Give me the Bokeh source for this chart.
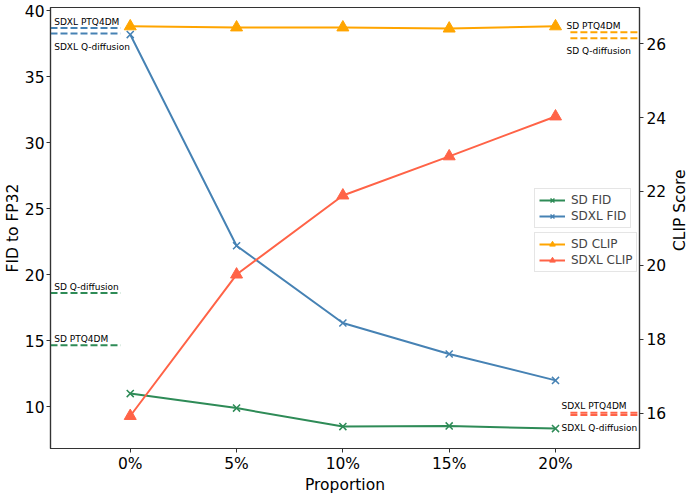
import math
from bokeh.plotting import figure
from bokeh.layouts import row
from bokeh.models import Range1d, LinearAxis, FixedTicker, Legend, LegendItem, ColumnDataSource
from bokeh.core.properties import value
from bokeh.embed import file_html
from bokeh.resources import INLINE

# ---------------- data ----------------
proportions = ["0%", "5%", "10%", "15%", "20%"]
sd_fid = [11.0, 9.9, 8.5, 8.55, 8.35]
sdxl_fid = [38.2, 22.2, 16.35, 14.0, 12.0]
sd_clip = [26.47, 26.44, 26.44, 26.41, 26.47]
sdxl_clip = [15.92, 19.75, 21.89, 22.95, 24.03]

baseline_methods = ["PTQ4DM", "Q-diffusion"]
sdxl_fid_base = [38.7, 38.28]
sd_fid_base = [14.67, 18.62]
sd_clip_base = [26.31, 26.15]
sdxl_clip_base = [16.01, 15.95]

left_ticks = [10, 15, 20, 25, 30, 35, 40]
right_ticks = [16, 18, 20, 22, 24, 26]

x_title = "Proportion"
y_title = "FID to FP32"
y2_title = "CLIP Score"

# ---------------- styles ----------------
GREEN = "#2e8b57"
BLUE = "#4682b4"
ORANGE = "#ffa500"
RED = "#ff6347"
AX = "#333333"
FONT = "DejaVu Sans"
FS = "15.5px"

idx = list(range(len(proportions)))

p = figure(width=669, height=496, output_backend="svg", toolbar_location=None,
           x_range=Range1d(-0.75, 4.79), y_range=Range1d(6.84, 40.25),
           min_border_left=48, min_border_right=27, min_border_top=7, min_border_bottom=48)
p.extra_y_ranges = {"clip": Range1d(15.04, 26.98)}
p.grid.visible = False
p.outline_line_color = AX
p.outline_line_width = 1.2
p.background_fill_color = "white"
p.border_fill_color = "white"

def style_axis(ax):
    ax.axis_line_color = AX
    ax.axis_line_width = 1.2
    ax.major_tick_line_color = AX
    ax.major_tick_out = 4
    ax.major_tick_in = 0
    ax.minor_tick_line_color = None
    ax.major_label_text_font = FONT
    ax.major_label_text_font_size = FS
    ax.major_label_text_color = "black"
    ax.axis_label_text_font = FONT
    ax.axis_label_text_font_size = FS
    ax.axis_label_text_font_style = "normal"
    ax.axis_label_text_color = "black"
    ax.major_label_standoff = 3
    ax.axis_label_standoff = 0

p.xaxis.ticker = FixedTicker(ticks=idx)
p.xaxis.major_label_overrides = {i: s for i, s in zip(idx, proportions)}
p.xaxis.axis_label = x_title
p.yaxis.ticker = FixedTicker(ticks=left_ticks)
p.yaxis.axis_label = y_title
style_axis(p.xaxis[0])
style_axis(p.yaxis[0])
p.xaxis[0].major_label_standoff = 2
p.yaxis[0].major_label_standoff = 2

raxis = LinearAxis(y_range_name="clip", ticker=FixedTicker(ticks=right_ticks))
style_axis(raxis)
p.add_layout(raxis, "right")

# ---------------- baselines (dashed) ----------------
LX0, LX1 = -0.75, -0.09
RX0, RX1 = 4.14, 4.79
DASH = "7 3"

def baseline(vals, color, x0, x1, rname="default"):
    for v in vals:
        p.line([x0, x1], [v, v], line_color=color, line_width=2, line_dash=DASH, y_range_name=rname)

baseline(sdxl_fid_base, BLUE, LX0, LX1)
baseline(sd_fid_base, GREEN, LX0, LX1)
baseline(sd_clip_base, ORANGE, RX0, RX1, "clip")
baseline(sdxl_clip_base, RED, RX0, RX1, "clip")

def base_labels(prefix, vals, xpos, rname="default"):
    # PTQ4DM label above its line, Q-diffusion label below its line
    offs = [-6.3, 13.0]
    for name, v, off in zip(baseline_methods, vals, offs):
        p.text(x=[xpos], y=[v], text=[f"{prefix} {name}"], text_font=value(FONT),
               text_font_size="9px", text_color="black", text_baseline="alphabetic",
               text_align="left", y_offset=off, y_range_name=rname)

# SD FID labels sit above their own lines
for name, v in zip(baseline_methods, sd_fid_base):
    p.text(x=[-0.715], y=[v], text=[f"SD {name}"], text_font=value(FONT),
           text_font_size="9px", text_color="black", text_baseline="alphabetic",
           text_align="left", y_offset=-6.0)
base_labels("SDXL", sdxl_fid_base, -0.715)
base_labels("SD", sd_clip_base, 4.103, "clip")
base_labels("SDXL", sdxl_clip_base, 4.056, "clip")

# ---------------- series ----------------
src = ColumnDataSource(dict(x=idx, sd_fid=sd_fid, sdxl_fid=sdxl_fid, sd_clip=sd_clip, sdxl_clip=sdxl_clip))

l1 = p.line("x", "sd_fid", source=src, line_color=GREEN, line_width=2)
m1 = p.scatter("x", "sd_fid", source=src, marker="x", size=10, line_color=GREEN, line_width=1.5)
l2 = p.line("x", "sdxl_fid", source=src, line_color=BLUE, line_width=2)
m2 = p.scatter("x", "sdxl_fid", source=src, marker="x", size=10, line_color=BLUE, line_width=1.5)
l3 = p.line("x", "sd_clip", source=src, line_color=ORANGE, line_width=2, y_range_name="clip")
m3 = p.scatter("x", "sd_clip", source=src, marker="triangle", size=12, fill_color=ORANGE,
               line_color=ORANGE, y_range_name="clip")
l4 = p.line("x", "sdxl_clip", source=src, line_color=RED, line_width=2, y_range_name="clip")
m4 = p.scatter("x", "sdxl_clip", source=src, marker="triangle", size=12, fill_color=RED,
               line_color=RED, y_range_name="clip")

def make_legend(items, loc):
    lg = Legend(items=items, location=loc)
    lg.label_text_font = FONT
    lg.label_text_font_size = "12px"
    lg.glyph_width = 26
    lg.glyph_height = 14
    lg.label_height = 14
    lg.spacing = 2
    lg.padding = 4
    lg.margin = 0
    lg.label_standoff = 6
    lg.border_line_color = "#cccccc"
    lg.border_line_width = 1
    lg.background_fill_alpha = 0.85
    return lg

leg1 = make_legend([LegendItem(label="SD FID", renderers=[l1, m1]),
                    LegendItem(label="SDXL FID", renderers=[l2, m2])], (484, 220))
leg2 = make_legend([LegendItem(label="SD CLIP", renderers=[l3, m3]),
                    LegendItem(label="SDXL CLIP", renderers=[l4, m4])], (484, 176))
p.add_layout(leg1)
p.add_layout(leg2)

# ---------------- right axis title (reads bottom-to-top, as in the reference) ----------------
side = figure(width=20, height=496, output_backend="svg", toolbar_location=None,
              x_range=Range1d(0, 20), y_range=Range1d(0, 496),
              x_axis_type=None, y_axis_type=None,
              min_border_left=0, min_border_right=0, min_border_top=0, min_border_bottom=0)
side.grid.visible = False
side.outline_line_color = None
side.text(x=[10], y=[268], text=[y2_title], angle=math.pi / 2, text_font=value(FONT),
          text_font_size=FS, text_color="black", text_align="center", text_baseline="alphabetic")

layout = row(p, side, spacing=0)
open("out.html", "w").write(file_html(layout, INLINE))
